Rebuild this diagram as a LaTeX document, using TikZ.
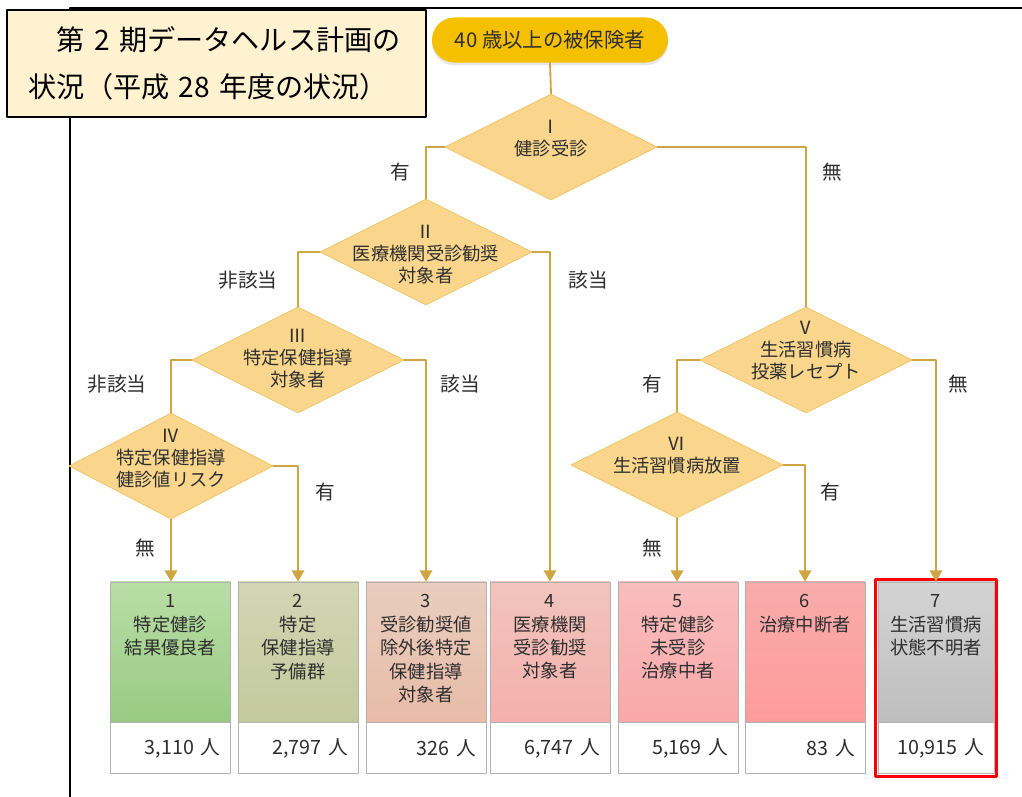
\documentclass[tikz,border=0pt]{standalone}
\usepackage{fontspec}
\setmainfont{Noto Sans CJK JP}
\usepackage{tikz}
\usetikzlibrary{arrows.meta,positioning,shapes.geometric,shadows,fit}

\definecolor{ttlfill}{HTML}{FEF2D0}
\definecolor{pillgold}{HTML}{F5C000}
\definecolor{diafill}{HTML}{F9D68C}
\definecolor{diaedge}{HTML}{F2C56A}
\definecolor{linegold}{HTML}{CFA443}
\definecolor{txt}{HTML}{2E2E2E}

\tikzset{
  ttlbox/.style={draw=black, line width=0.8pt, fill=ttlfill, minimum width=10.475cm, minimum height=2.675cm,
    inner xsep=15pt, text width=267pt, align=left, font=\fontsize{20}{33}\selectfont},
  pill/.style={rounded corners=16pt, fill=pillgold, minimum width=5.9cm, minimum height=1.125cm,
    font=\fontsize{14.5}{17}\selectfont, text=txt,
    drop shadow={opacity=0.2, shadow xshift=0pt, shadow yshift=-2pt}},
  dia/.style={diamond, fill=diafill, draw=diaedge, line width=0.6pt, inner sep=0pt,
    minimum width=5.3cm, minimum height=2.65cm},
  ditext/.style={align=center, font=\fontsize{13}{15.6}\selectfont, text=txt, inner sep=0pt},
  cbox/.style={draw=black!30, line width=0.6pt, minimum width=3cm, minimum height=3.5cm, inner sep=0pt},
  btext/.style={anchor=north, yshift=-9pt, align=center, font=\fontsize{13}{16.7}\selectfont, text=txt, inner sep=0pt},
  cnt/.style={draw=black!30, fill=white, line width=0.6pt, minimum width=3cm, minimum height=1.275cm,
    inner xsep=7pt, text width=71pt, align=right, font=\fontsize{14}{16}\selectfont, text=txt},
  lbl/.style={font=\fontsize{14}{16}\selectfont, text=txt},
  flow/.style={draw=linegold, line width=1.3pt},
}

\begin{document}
\begin{tikzpicture}[x=0.025cm,y=-0.025cm,line cap=round,line join=round,>={Triangle[width=9pt,length=8pt]}]
\useasboundingbox (0,0) rectangle (1022,797);

% frame
\draw[line width=1.5pt] (70,797) -- (70,8) -- (1022,8);

\node[ttlbox] (ttl) at (216.5,63.5) {\hspace{1em}第 2 期データヘルス計画の\\状況（平成 28 年度の状況）};

\node[pill] (top) at (550,40) {40 歳以上の被保険者};

% decisions
\node[dia, label={[ditext, yshift=6pt]center:Ⅰ\\健診受診}] (d1) at (551,147) {};
\node[dia, label={[ditext, yshift=-2pt]center:Ⅱ\\医療機関受診勧奨\\対象者}] (d2) at (426,252) {};
\node[dia, label={[ditext, yshift=1pt]center:Ⅲ\\特定保健指導\\対象者}] (d3) at (298,360) {};
\node[dia, minimum width=5.1cm, label={[ditext, yshift=5pt]center:Ⅳ\\特定保健指導\\健診値リスク}] (d4) at (171,466) {};
\node[dia, label={[ditext, yshift=7pt]center:Ⅴ\\生活習慣病\\投薬レセプト}] (d5) at (806,360) {};
\node[dia, label={[ditext, yshift=7pt]center:Ⅵ\\生活習慣病放置}] (d6) at (677,465) {};

% result boxes
\node[cbox, top color={rgb,255:red,185;green,222;blue,166}, bottom color={rgb,255:red,152;green,202;blue,130},
  label={[btext]north:1\\特定健診\\結果優良者}] (b1) at (170.5,652) {};
\node[cbox, top color={rgb,255:red,210;green,214;blue,180}, bottom color={rgb,255:red,195;green,202;blue,156},
  label={[btext]north:2\\特定\\保健指導\\予備群}] (b2) at (298,652) {};
\node[cbox, top color={rgb,255:red,233;green,205;blue,190}, bottom color={rgb,255:red,232;green,188;blue,168},
  label={[btext]north:3\\受診勧奨値\\除外後特定\\保健指導\\対象者}] (b3) at (426,652) {};
\node[cbox, top color={rgb,255:red,242;green,196;blue,188}, bottom color={rgb,255:red,244;green,176;blue,172},
  label={[btext]north:4\\医療機関\\受診勧奨\\対象者}] (b4) at (550,652) {};
\node[cbox, top color={rgb,255:red,249;green,189;blue,189}, bottom color={rgb,255:red,249;green,168;blue,168},
  label={[btext]north:5\\特定健診\\未受診\\治療中者}] (b5) at (678,652) {};
\node[cbox, top color={rgb,255:red,248;green,171;blue,171}, bottom color={rgb,255:red,255;green,155;blue,155},
  label={[btext]north:6\\治療中断者}] (b6) at (805,652) {};
\node[cbox, minimum width=2.9cm, top color={rgb,255:red,212;green,212;blue,212}, bottom color={rgb,255:red,190;green,190;blue,190},
  label={[btext]north:7\\生活習慣病\\状態不明者}] (b7) at (936,652) {};

\node[cnt, below=0pt of b1] (n1) {3,110 人};
\node[cnt, below=0pt of b2] (n2) {2,797 人};
\node[cnt, below=0pt of b3] (n3) {326 人};
\node[cnt, below=0pt of b4] (n4) {6,747 人};
\node[cnt, below=0pt of b5] (n5) {5,169 人};
\node[cnt, below=0pt of b6] (n6) {83 人};
\node[cnt, minimum width=2.9cm, text width=68pt, below=0pt of b7] (n7) {10,915 人};

\node[fit=(b7)(n7), draw=red, line width=2.2pt, inner sep=1.5pt] (hl) {};

% connectors
\draw[flow] (top.south) -- (d1.north);
\draw[flow] (d1.west) -| (d2.north);
\draw[flow] (d1.east) -| (d5.north);
\draw[flow] (d2.west) -| (d3.north);
\draw[flow,->] (d2.east) -| (b4.north);
\draw[flow] (d3.west) -| (d4.north);
\draw[flow,->] (d3.east) -| (b3.north);
\draw[flow,->] (d4.east) -| (b2.north);
\draw[flow,->] (d4.south) -- (d4.south |- b1.north);
\draw[flow] (d5.west) -| (d6.north);
\draw[flow,->] (d5.east) -| (b7.north);
\draw[flow,->] (d6.east) -| (b6.north);
\draw[flow,->] (d6.south) -- (d6.south |- b5.north);

% branch labels
\node[lbl] (l1) at (400,172) {有};
\node[lbl] (l2) at (832,172) {無};
\node[lbl] (l3) at (248,280) {非該当};
\node[lbl] (l4) at (588,280) {該当};
\node[lbl] (l5) at (117,384) {非該当};
\node[lbl] (l6) at (460,384) {該当};
\node[lbl] (l7) at (652,384) {有};
\node[lbl] (l8) at (958,384) {無};
\node[lbl] (l9) at (325,492) {有};
\node[lbl] (l10) at (830,492) {有};
\node[lbl] (l11) at (145,548) {無};
\node[lbl] (l12) at (652,548) {無};

\end{tikzpicture}
\end{document}
